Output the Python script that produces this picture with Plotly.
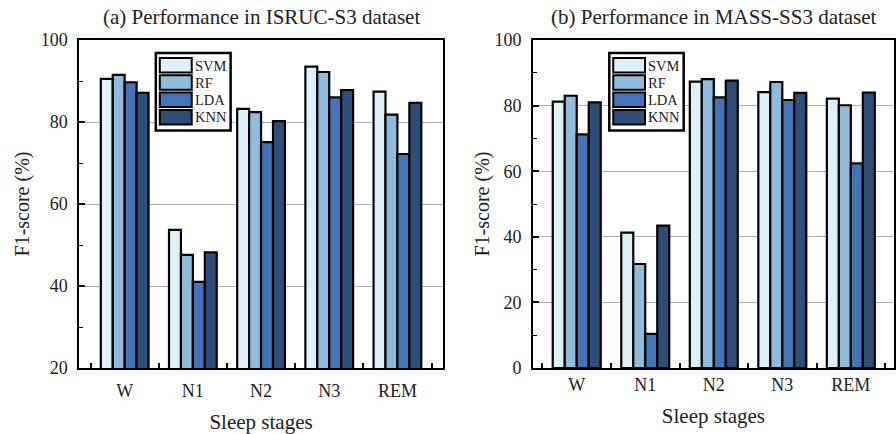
import plotly.graph_objects as go

stages = ["W", "N1", "N2", "N3", "REM"]
methods = ["SVM", "RF", "LDA", "KNN"]

isruc_svm = [90.5, 53.7, 83.2, 93.5, 87.4]
isruc_rf = [91.5, 47.6, 82.4, 92.2, 81.8]
isruc_lda = [89.7, 41.0, 75.1, 86.0, 72.2]
isruc_knn = [87.1, 48.2, 80.2, 87.8, 84.7]

mass_svm = [81.2, 41.3, 87.3, 84.1, 82.1]
mass_rf = [83.0, 31.7, 88.1, 87.2, 80.1]
mass_lda = [71.2, 10.4, 82.5, 81.7, 62.4]
mass_knn = [81.0, 43.4, 87.6, 83.9, 84.0]

colors = ["#dff1f8", "#8fbcdc", "#4474b8", "#2d4e78"]

panel_titles = ["(a) Performance in ISRUC-S3 dataset", "(b) Performance in MASS-SS3 dataset"]
x_title = "Sleep stages"
y_title = "F1-score (%)"

FONT = "Liberation Serif, Times New Roman, serif"

W, H = 896, 434
ML, MR, MT, MB = 79, 0, 40, 66
PW = W - ML - MR
PH = H - MT - MB
left_px = (79, 444)
right_px = (534, 896)

def dom(px):
    return [(px[0] - ML) / PW, (px[1] - ML) / PW]

fig = go.Figure()

panels = [
    ("x", "y", [isruc_svm, isruc_rf, isruc_lda, isruc_knn]),
    ("x2", "y2", [mass_svm, mass_rf, mass_lda, mass_knn]),
]
for xa, ya, series in panels:
    for name, vals, col in zip(methods, series, colors):
        fig.add_trace(go.Bar(
            x=stages, y=vals, name=name, xaxis=xa, yaxis=ya,
            marker=dict(color=col, line=dict(color="black", width=2.2)),
            showlegend=False,
        ))

axis_common_x = dict(
    type="category", showline=True, linecolor="black", linewidth=1.5, mirror=True,
    ticks="inside", tickson="boundaries", ticklen=5, tickcolor="black", tickwidth=1.5,
    showgrid=False, zeroline=False,
    tickfont=dict(family=FONT, size=18, color="#222"),
    title=dict(text=x_title, font=dict(family=FONT, size=21, color="#222")),
)
axis_common_y = dict(
    showline=True, linecolor="black", linewidth=1.5, mirror=True,
    ticks="inside", ticklen=6, tickcolor="black", tickwidth=1.5, dtick=20,
    showgrid=True, gridcolor="#b0b0b0", gridwidth=1.3, zeroline=False,
    minor=dict(ticks="inside", ticklen=4, dtick=10, tickcolor="black", tickwidth=1.2, showgrid=False),
    tickfont=dict(family=FONT, size=18, color="#222"),
    title=dict(text=y_title, font=dict(family=FONT, size=20, color="#222")),
    ticklabelstandoff=6,
)

fig.update_layout(
    width=W, height=H,
    margin=dict(l=ML, r=MR, t=MT, b=MB),
    paper_bgcolor="white", plot_bgcolor="white",
    barmode="group", bargap=0.3, bargroupgap=0,
    font=dict(family=FONT, color="#222"),
    xaxis=dict(axis_common_x, domain=dom(left_px), anchor="y", range=[-0.67, 4.67],
               ticklabelstandoff=6),
    xaxis2=dict(axis_common_x, domain=dom(right_px), anchor="y2", range=[-0.64, 4.63],
                ticklabelstandoff=0),
    yaxis=dict(axis_common_y, domain=[0, 1], anchor="x", range=[20, 100]),
    yaxis2=dict(axis_common_y, domain=[0, 1], anchor="x2", range=[0, 100]),
)
fig.layout.xaxis.title.standoff = 14
fig.layout.xaxis2.title.standoff = 14
fig.layout.yaxis.title.standoff = 6
fig.layout.yaxis2.title.standoff = 0

shapes = []
annotations = []

def add_legend(xd, yd, pw, ph):
    lx, ty, lw, lh = 77.0, 13.0, 75.0, 77.5
    fx = lambda p: p / pw
    fy = lambda p: 1 - p / ph
    shapes.append(dict(type="rect", xref=xd, yref=yd,
                       x0=fx(lx), x1=fx(lx + lw), y0=fy(ty + lh), y1=fy(ty),
                       line=dict(color="black", width=2.5), fillcolor="white", layer="above"))
    for i, (name, col) in enumerate(zip(methods, colors)):
        top = ty + 5 + i * 17.3
        shapes.append(dict(type="rect", xref=xd, yref=yd,
                           x0=fx(lx + 4), x1=fx(lx + 36), y0=fy(top + 14.5), y1=fy(top),
                           line=dict(color="black", width=2), fillcolor=col, layer="above"))
        annotations.append(dict(text=name, xref=xd, yref=yd, x=fx(lx + 37), y=fy(top + 7.5),
                                xanchor="left", yanchor="middle", showarrow=False,
                                font=dict(family=FONT, size=14.5, color="#222")))

add_legend("x domain", "y domain", left_px[1] - left_px[0], PH)
add_legend("x2 domain", "y2 domain", 364, PH)

for i, (t, px) in enumerate(zip(panel_titles, [(79, 444), (534, 898)])):
    cx = ((px[0] + px[1]) / 2 - ML) / PW
    annotations.append(dict(text=t, xref="paper", yref="paper", x=cx, y=1 + 23 / PH,
                            xanchor="center", yanchor="middle", showarrow=False,
                            font=dict(family=FONT, size=21, color="#222")))

fig.update_layout(shapes=shapes, annotations=annotations)
fig.write_html("out.html")
